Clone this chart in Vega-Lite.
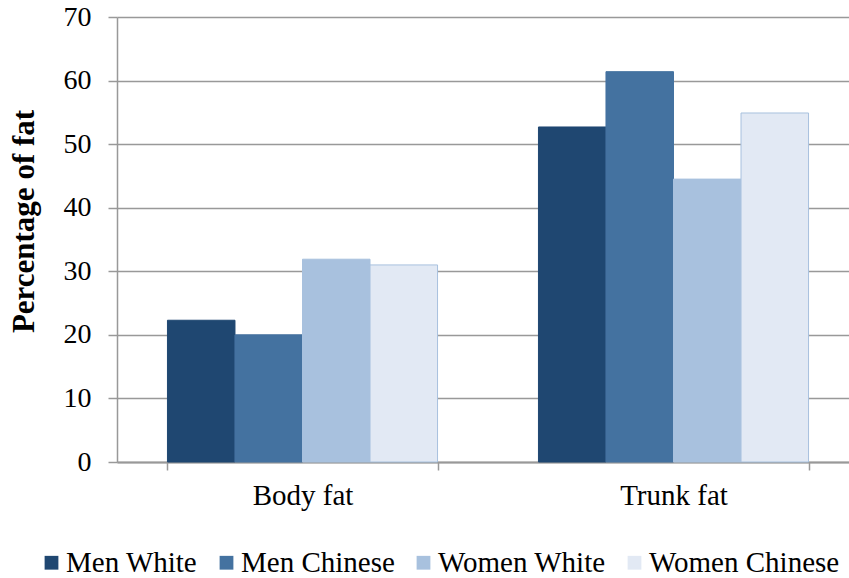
{
  "$schema": "https://vega.github.io/schema/vega-lite/v6.json",
  "autosize": "none",
  "padding": {"left": 117, "top": 17, "right": 0, "bottom": 116},
  "width": 742,
  "height": 445,
  "background": "white",
  "config": {
    "font": "Liberation Serif",
    "view": {"stroke": null}
  },
  "data": {
    "values": [
      {"measure": "Body fat", "group": "Men White", "pct": 22.3},
      {"measure": "Body fat", "group": "Men Chinese", "pct": 20.0},
      {"measure": "Body fat", "group": "Women White", "pct": 31.9},
      {"measure": "Body fat", "group": "Women Chinese", "pct": 31.0},
      {"measure": "Trunk fat", "group": "Men White", "pct": 52.7},
      {"measure": "Trunk fat", "group": "Men Chinese", "pct": 61.4},
      {"measure": "Trunk fat", "group": "Women White", "pct": 44.5},
      {"measure": "Trunk fat", "group": "Women Chinese", "pct": 54.9}
    ]
  },
  "mark": {"type": "bar", "strokeWidth": 1},
  "encoding": {
    "x": {
      "field": "measure",
      "type": "nominal",
      "sort": ["Body fat", "Trunk fat"],
      "scale": {"paddingInner": 0.272, "paddingOuter": 0.136},
      "axis": {
        "title": null,
        "labelAngle": 0,
        "labelFontSize": 29,
        "labelColor": "black",
        "labelPadding": 11,
        "tickBand": "extent",
        "tickSize": 8,
        "tickColor": "#999999",
        "tickWidth": 1.5,
        "domainColor": "#999999",
        "domainWidth": 2
      }
    },
    "xOffset": {
      "field": "group",
      "type": "nominal",
      "sort": ["Men White", "Men Chinese", "Women White", "Women Chinese"],
      "scale": {"paddingInner": 0, "paddingOuter": 0}
    },
    "y": {
      "field": "pct",
      "type": "quantitative",
      "scale": {"domain": [0, 70], "nice": false},
      "axis": {
        "title": "Percentage of fat",
        "titleFontSize": 31,
        "titleFontWeight": "bold",
        "titleColor": "black",
        "titlePadding": 23,
        "titleY": 204,
        "values": [0, 10, 20, 30, 40, 50, 60, 70],
        "labelFontSize": 28,
        "labelColor": "black",
        "labelPadding": 17,
        "tickSize": 9,
        "tickColor": "#999999",
        "tickWidth": 1.5,
        "domainColor": "#999999",
        "domainWidth": 1.5,
        "grid": true,
        "gridColor": "#999999",
        "gridWidth": 1.5
      }
    },
    "fill": {
      "field": "group",
      "type": "nominal",
      "sort": ["Men White", "Men Chinese", "Women White", "Women Chinese"],
      "scale": {"range": ["#1f4771", "#4472a0", "#a8c1de", "#e2e9f4"]},
      "legend": {
        "title": null,
        "orient": "none",
        "direction": "horizontal",
        "legendX": -80,
        "legendY": 531,
        "padding": 0,
        "symbolType": "square",
        "symbolSize": 190,
        "symbolStrokeWidth": 0,
        "symbolOpacity": 1,
        "labelFontSize": 29,
        "labelColor": "black",
        "labelOffset": 0,
        "labelLimit": 400,
        "columnPadding": 14
      }
    },
    "stroke": {
      "field": "group",
      "type": "nominal",
      "sort": ["Men White", "Men Chinese", "Women White", "Women Chinese"],
      "scale": {"range": ["#1f4771", "#4472a0", "#a8c1de", "#a8c1de"]},
      "legend": null
    }
  }
}
